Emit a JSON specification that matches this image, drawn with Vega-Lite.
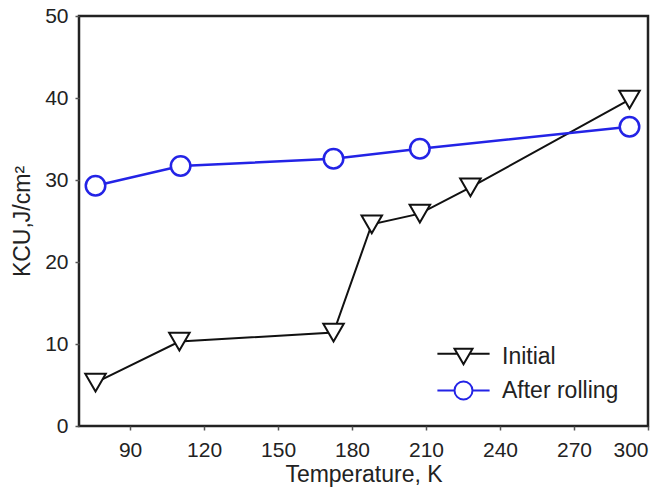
{
  "$schema": "https://vega.github.io/schema/vega-lite/v6.json",
  "autosize": "none",
  "width": 569,
  "height": 410,
  "padding": {"left": 79, "top": 16, "right": 19, "bottom": 62},
  "background": "white",
  "data": {
    "values": [
      {"series": "Initial", "T": 76, "KCU": 5.3},
      {"series": "Initial", "T": 110, "KCU": 10.3},
      {"series": "Initial", "T": 172.5, "KCU": 11.4},
      {"series": "Initial", "T": 188, "KCU": 24.6},
      {"series": "Initial", "T": 207.5, "KCU": 25.9},
      {"series": "Initial", "T": 228, "KCU": 29.1},
      {"series": "Initial", "T": 292.5, "KCU": 39.8},
      {"series": "After rolling", "T": 76, "KCU": 29.3},
      {"series": "After rolling", "T": 110.5, "KCU": 31.7},
      {"series": "After rolling", "T": 172.5, "KCU": 32.6},
      {"series": "After rolling", "T": 207.5, "KCU": 33.8},
      {"series": "After rolling", "T": 292.5, "KCU": 36.5}
    ]
  },
  "encoding": {
    "x": {
      "field": "T", "type": "quantitative",
      "scale": {"domain": [69.3, 300], "nice": false, "zero": false},
      "axis": {"values": [90, 120, 150, 180, 210, 240, 270, 300], "title": "Temperature, K", "grid": false, "domain": false, "tickSize": 4, "labelPadding": 9, "titlePadding": 3}
    },
    "y": {
      "field": "KCU", "type": "quantitative",
      "scale": {"domain": [0, 50], "nice": false},
      "axis": {"values": [0, 10, 20, 30, 40, 50], "title": "KCU,J/cm²", "grid": false, "domain": false, "tickSize": 4, "labelPadding": 7, "titlePadding": 10}
    }
  },
  "layer": [
    {
      "transform": [{"filter": "datum.series === 'Initial'"}],
      "mark": {"type": "line", "color": "#111111", "strokeWidth": 2}
    },
    {
      "transform": [{"filter": "datum.series === 'After rolling'"}],
      "mark": {"type": "line", "color": "#2323e6", "strokeWidth": 2.5}
    },
    {
      "transform": [{"filter": "datum.series === 'Initial'"}],
      "mark": {"type": "point", "shape": "triangle-down", "size": 420, "filled": true, "fill": "white", "stroke": "#111111", "strokeWidth": 2, "opacity": 1}
    },
    {
      "transform": [{"filter": "datum.series === 'After rolling'"}],
      "mark": {"type": "point", "shape": "circle", "size": 380, "filled": true, "fill": "white", "stroke": "#2323e6", "strokeWidth": 2.5, "opacity": 1}
    },
    {
      "mark": {"type": "point", "opacity": 0, "filled": false},
      "encoding": {
        "color": {
          "field": "series", "type": "nominal",
          "scale": {"domain": ["Initial", "After rolling"], "range": ["#111111", "#2323e6"]},
          "legend": {
            "title": null,
            "orient": "none",
            "legendX": 373,
            "legendY": 329,
            "symbolSize": 324,
            "symbolOpacity": 1,
            "symbolStrokeWidth": 2,
            "symbolFillColor": "white",
            "labelOffset": 27,
            "rowPadding": 8,
            "padding": 0,
            "labelFont": "Liberation Sans",
            "labelFontSize": 23,
            "labelColor": "#222222"
          }
        },
        "shape": {
          "field": "series", "type": "nominal",
          "scale": {
            "domain": ["Initial", "After rolling"],
            "range": [
              "M-2.9,-0.3H-0.67M0.67,-0.3H2.9M-1,-0.866L1,-0.866L0,0.866Z",
              "M-2.9,0H-1M1,0H2.9M1,0A1,1,0,1,1,-1,0A1,1,0,1,1,1,0Z"
            ]
          },
          "legend": {
            "title": null,
            "orient": "none",
            "legendX": 373,
            "legendY": 329,
            "symbolSize": 324,
            "symbolOpacity": 1,
            "symbolStrokeWidth": 2,
            "symbolFillColor": "white",
            "labelOffset": 27,
            "rowPadding": 8,
            "padding": 0,
            "labelFont": "Liberation Sans",
            "labelFontSize": 23,
            "labelColor": "#222222"
          }
        }
      }
    }
  ],
  "config": {
    "view": {"stroke": "#222222", "strokeWidth": 2.5},
    "axis": {
      "labelFont": "Liberation Sans",
      "labelFontSize": 21,
      "labelColor": "#222222",
      "titleFont": "Liberation Sans",
      "titleFontSize": 23,
      "titleFontWeight": "normal",
      "titleColor": "#222222",
      "tickColor": "#555555",
      "tickWidth": 1.5
    }
  }
}
